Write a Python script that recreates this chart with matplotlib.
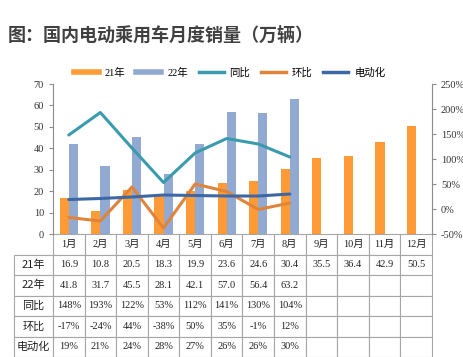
import numpy as np
import matplotlib.pyplot as plt
from matplotlib.lines import Line2D

months = ['1月', '2月', '3月', '4月', '5月', '6月', '7月', '8月', '9月', '10月', '11月', '12月']
sales21 = [16.9, 10.8, 20.5, 18.3, 19.9, 23.6, 24.6, 30.4, 35.5, 36.4, 42.9, 50.5]
sales22 = [41.8, 31.7, 45.5, 28.1, 42.1, 57.0, 56.4, 63.2]
yoy = [148, 193, 122, 53, 112, 141, 130, 104]
mom = [-17, -24, 44, -38, 50, 35, -1, 12]
ev_share = [19, 21, 24, 28, 27, 26, 26, 30]
left_ticks = [0, 10, 20, 30, 40, 50, 60, 70]
right_ticks = [-50, 0, 50, 100, 150, 200, 250]

c21 = '#FF9B37'
c22 = '#92A9D2'
c_yoy = '#3A9BAE'
c_mom = '#E0843C'
c_ev = '#3D68A6'
grey = '#8C8C8C'

serif = ['Liberation Serif', 'Noto Sans CJK SC']
cjk = ['Noto Sans CJK SC', 'DejaVu Sans']

fig = plt.figure(figsize=(4.64, 3.57), dpi=100)
ax = fig.add_axes([0.1142, 0.3445, 0.8168, 0.4202])
ax2 = ax.twinx()

x = np.arange(len(months))
w = 0.29
ax.bar(x - w / 2, sales21, w, color=c21, zorder=2)
ax.bar(x[:len(sales22)] + w / 2, sales22, w, color=c22, zorder=2)

ax2.plot(x[:len(yoy)], yoy, color=c_yoy, lw=2.2, solid_capstyle='round')
ax2.plot(x[:len(mom)], mom, color=c_mom, lw=2.2, solid_capstyle='round')
ax2.plot(x[:len(ev_share)], ev_share, color=c_ev, lw=2.2, solid_capstyle='round')

ax.set_xlim(-0.5, 11.5)
ax.set_ylim(0, 70)
ax.set_yticks(left_ticks)
ax2.set_ylim(-50, 250)
ax2.set_yticks(right_ticks)
ax2.set_yticklabels([f'{v}%' for v in right_ticks])
ax.set_xticks([])

for a in (ax, ax2):
    for s in ('top', 'bottom'):
        a.spines[s].set_visible(False)
    a.spines['left'].set_color(grey)
    a.spines['right'].set_color(grey)
    a.tick_params(axis='y', colors='#333333', labelsize=7.5, length=3, width=0.8, color=grey)
    for t in a.get_yticklabels():
        t.set_fontfamily(serif)
ax.spines['right'].set_visible(False)
ax2.spines['left'].set_visible(False)

# table under the chart
row_names = ['21年', '22年', '同比', '环比', '电动化']
def fmt(vals, pct):
    out = [f'{v}%' if pct else f'{v:.1f}' for v in vals]
    return out + [''] * (len(months) - len(out))
rows = [
    [row_names[0]] + fmt(sales21, False),
    [row_names[1]] + fmt(sales22, False),
    [row_names[2]] + fmt(yoy, True),
    [row_names[3]] + fmt(mom, True),
    [row_names[4]] + fmt(ev_share, True),
]
total_w = 418.0
col_w = [39 / total_w] + [379 / 12 / total_w] * 12
tbl = ax.table(cellText=rows, colLabels=[''] + months, colWidths=col_w,
               cellLoc='center', bbox=[-0.1029, -0.82, 1.1029, 0.82])
tbl.auto_set_font_size(False)
for (r, c), cell in tbl.get_celld().items():
    cell.set_edgecolor('#A6A6A6')
    cell.set_linewidth(0.8)
    txt = cell.get_text()
    txt.set_fontsize(7.5)
    txt.set_color('#222222')
    if c == 0:
        txt.set_fontfamily(cjk)
        txt.set_fontsize(8)
    else:
        txt.set_fontfamily(serif)
    if r == 0 and c == 0:
        cell.visible_edges = 'B'

handles = [
    Line2D([], [], color=c21, lw=4),
    Line2D([], [], color=c22, lw=4),
    Line2D([], [], color=c_yoy, lw=2.5),
    Line2D([], [], color=c_mom, lw=2.5),
    Line2D([], [], color=c_ev, lw=2.5),
]
fig.legend(handles, ['21年', '22年', '同比', '环比', '电动化'], loc='center',
           bbox_to_anchor=(0.495, 0.796), ncol=5, frameon=False, handlelength=2.4,
           columnspacing=1.05, handletextpad=0.55, prop={'family': serif, 'size': 7.5})

fig.text(0.017, 0.902, '图：国内电动乘用车月度销量（万辆）', fontsize=13, fontweight='bold',
         color='#404040', family=cjk, va='center', ha='left')

fig.savefig('out.png', dpi=100)
